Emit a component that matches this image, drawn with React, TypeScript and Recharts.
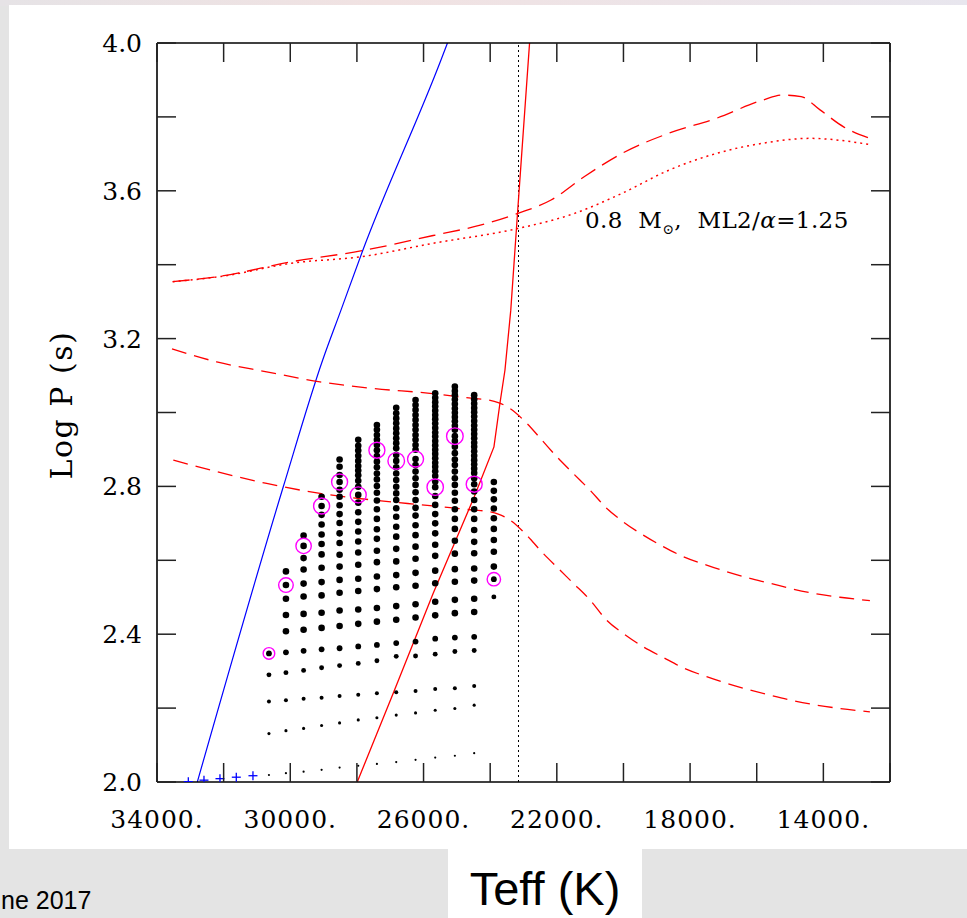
import React from 'react';
import { ComposedChart, Line, Scatter, XAxis, YAxis, ReferenceLine } from 'recharts';

// axis ticks
const xTicks = [12000, 14000, 16000, 18000, 20000, 22000, 24000, 26000, 28000, 30000, 32000, 34000];
const yTicks = [2.0, 2.2, 2.4, 2.6, 2.8, 3.0, 3.2, 3.4, 3.6, 3.8, 4.0];
const xDomain = [12000, 34000];
const yDomain = [2, 4];

// model grid: one column per Teff, log P values bottom -> top
const gridTeff = [30640, 30130, 29600, 29060, 28520, 27960, 27400, 26820, 26240, 25650, 25060, 24480, 23890];
const gridLogP = [
  [2.019, 2.131, 2.218, 2.29, 2.348],
  [2.024, 2.139, 2.221, 2.296, 2.351, 2.408, 2.452, 2.496, 2.533, 2.57],
  [2.028, 2.145, 2.225, 2.302, 2.355, 2.412, 2.455, 2.502, 2.537, 2.575, 2.606, 2.639, 2.667],
  [2.033, 2.153, 2.228, 2.309, 2.359, 2.417, 2.458, 2.505, 2.541, 2.58, 2.616, 2.644, 2.67, 2.697, 2.723, 2.747, 2.772],
  [2.039, 2.16, 2.233, 2.315, 2.362, 2.422, 2.464, 2.512, 2.547, 2.583, 2.615, 2.647, 2.673, 2.701, 2.725, 2.749, 2.772, 2.791, 2.812, 2.831, 2.853, 2.873],
  [2.044, 2.168, 2.236, 2.321, 2.367, 2.428, 2.467, 2.517, 2.55, 2.588, 2.621, 2.651, 2.678, 2.704, 2.73, 2.756, 2.777, 2.799, 2.815, 2.83, 2.843, 2.855, 2.869, 2.883, 2.897, 2.91, 2.926],
  [2.049, 2.174, 2.24, 2.328, 2.371, 2.434, 2.471, 2.522, 2.556, 2.595, 2.626, 2.658, 2.684, 2.712, 2.738, 2.762, 2.783, 2.801, 2.819, 2.835, 2.852, 2.867, 2.882, 2.898, 2.912, 2.926, 2.939, 2.953, 2.966],
  [2.054, 2.181, 2.243, 2.34, 2.376, 2.439, 2.476, 2.527, 2.56, 2.597, 2.631, 2.664, 2.691, 2.718, 2.741, 2.763, 2.781, 2.799, 2.817, 2.835, 2.852, 2.869, 2.885, 2.903, 2.917, 2.93, 2.944, 2.957, 2.971, 2.984, 2.998, 3.013],
  [2.06, 2.187, 2.246, 2.341, 2.38, 2.445, 2.481, 2.531, 2.566, 2.604, 2.637, 2.668, 2.695, 2.721, 2.742, 2.763, 2.784, 2.804, 2.822, 2.84, 2.858, 2.874, 2.899, 2.912, 2.926, 2.939, 2.953, 2.966, 2.98, 2.993, 3.007, 3.02, 3.034],
  [2.066, 2.194, 2.252, 2.346, 2.388, 2.451, 2.488, 2.538, 2.572, 2.612, 2.642, 2.673, 2.7, 2.725, 2.75, 2.774, 2.798, 2.813, 2.828, 2.841, 2.853, 2.864, 2.876, 2.888, 2.899, 2.911, 2.923, 2.935, 2.946, 2.958, 2.97, 2.982, 2.993, 3.005, 3.017, 3.028, 3.04, 3.052],
  [2.071, 2.199, 2.254, 2.353, 2.391, 2.457, 2.493, 2.542, 2.576, 2.618, 2.653, 2.685, 2.712, 2.738, 2.761, 2.783, 2.804, 2.822, 2.84, 2.858, 2.873, 2.89, 2.907, 2.923, 2.936, 2.953, 2.964, 2.976, 2.988, 2.999, 3.011, 3.023, 3.035, 3.047, 3.058, 3.07],
  [2.078, 2.208, 2.26, 2.356, 2.393, 2.46, 2.496, 2.545, 2.578, 2.619, 2.65, 2.682, 2.712, 2.738, 2.763, 2.786, 2.806, 2.822, 2.836, 2.848, 2.86, 2.871, 2.883, 2.895, 2.907, 2.918, 2.93, 2.942, 2.953, 2.965, 2.977, 2.989, 3.001, 3.012, 3.024, 3.036, 3.047],
  [2.501, 2.549, 2.583, 2.623, 2.655, 2.685, 2.714, 2.74, 2.765, 2.788, 2.812],
];

// observed periods (magenta rings)
const ringTeff = [30640, 30130, 29600, 29060, 28520, 27960, 27400, 26820, 26240, 25650, 25060, 24480, 23890];
const ringLogP = [2.348, 2.533, 2.639, 2.747, 2.812, 2.777, 2.898, 2.869, 2.874, 2.798, 2.936, 2.806, 2.549];

// blue crosses along the bottom
const plusTeff = [33060, 32590, 32110, 31620, 31120];
const plusLogP = [2.001, 2.005, 2.009, 2.013, 2.017];

const blueEdge = [[32790, 2.0], [30210, 2.799], [29027, 3.142], [28478, 3.277], [27839, 3.435], [25477, 3.954], [25282, 4.0]];
const redEdge = [[27990, 2.0], [26910, 2.24], [25710, 2.511], [24478, 2.772], [23887, 2.907], [23707, 3.025], [23556, 3.115], [23382, 3.277], [23166, 3.557], [22818, 4.0]];
const dashTop = [[33529, 3.354], [32085, 3.369], [29961, 3.408], [27836, 3.438], [25711, 3.479], [24298, 3.507], [23166, 3.539], [22173, 3.575], [21180, 3.638], [20048, 3.701], [18632, 3.756], [17215, 3.796], [15799, 3.846], [15232, 3.859], [14668, 3.855], [14100, 3.819], [13392, 3.773], [12612, 3.742]];
const dotTop = [[33529, 3.354], [32085, 3.368], [29961, 3.404], [27836, 3.422], [25711, 3.458], [23166, 3.498], [21465, 3.539], [20048, 3.593], [18632, 3.656], [17215, 3.701], [15799, 3.729], [14383, 3.742], [13537, 3.737], [12543, 3.724]];
const dashMid = [[33550, 3.172], [32208, 3.137], [30708, 3.11], [29108, 3.083], [27509, 3.065], [25807, 3.052], [24508, 3.038], [24058, 3.034], [23758, 3.027], [23407, 3.011], [22905, 2.971], [22455, 2.926], [21957, 2.876], [21507, 2.835], [21006, 2.79], [20505, 2.741], [20006, 2.704], [19406, 2.668], [18806, 2.637], [18206, 2.61], [17504, 2.587], [16903, 2.569], [16204, 2.551], [15604, 2.538], [14905, 2.522], [14203, 2.509], [13504, 2.5], [12603, 2.491]];
const dashLow = [[33511, 2.871], [32208, 2.84], [30708, 2.808], [29108, 2.781], [27509, 2.763], [25807, 2.748], [24508, 2.736], [24058, 2.732], [23758, 2.725], [23407, 2.709], [22905, 2.668], [22455, 2.623], [21957, 2.578], [21507, 2.538], [21006, 2.493], [20505, 2.438], [20006, 2.402], [19406, 2.366], [18806, 2.337], [18206, 2.309], [17504, 2.285], [16903, 2.267], [16204, 2.249], [15604, 2.235], [14905, 2.22], [14203, 2.208], [13504, 2.199], [12603, 2.19]];

const blueEdgeLimitTeff = 23150;

const pts = (arr: number[][]) => arr.map(([t, p]) => ({ t, p }));

const gridPoints = gridTeff.flatMap((t, c) =>
  gridLogP[c].map((p, i) => ({ t, p, k: i + (c === gridTeff.length - 1 ? 3 : 0) }))
);
const ringPoints = ringTeff.map((t, i) => ({ t, p: ringLogP[i], i }));
const plusPoints = plusTeff.map((t, i) => ({ t, p: plusLogP[i] }));
// invisible anchors so the top/right frame axes get a domain
const frameAnchors = [{ t: xDomain[0], p: yDomain[0] }, { t: xDomain[1], p: yDomain[1] }];

const ringR = [5.8, 7.3, 7.7, 8, 8, 8, 8, 8.3, 8, 8.2, 8.3, 8, 6.7];

const SERIF = '"DejaVu Serif", serif';
const SANS = '"Liberation Sans", Arial, sans-serif';
const TICK = '#222';

const GridDot = (props: any) => {
  const { cx, cy, payload } = props;
  const r = Math.min(3.3, 1.1 + 0.45 * payload.k);
  return <circle cx={cx} cy={cy} r={r} fill="#000" />;
};

const Ring = (props: any) => {
  const { cx, cy, payload } = props;
  return <circle cx={cx} cy={cy} r={ringR[payload.i]} fill="none" stroke="#ff00ff" strokeWidth={1.4} />;
};

const Plus = (props: any) => {
  const { cx, cy } = props;
  return (
    <g stroke="#0000ff" strokeWidth={1.3}>
      <line x1={cx - 4.5} y1={cy} x2={cx + 4.5} y2={cy} />
      <line x1={cx} y1={cy - 4.5} x2={cx} y2={cy + 4.5} />
    </g>
  );
};

const Nothing = () => <g />;

const BottomTick = (props: any) => {
  const { x, y, payload } = props;
  const v = payload.value;
  const labeled = (34000 - v) % 4000 === 0;
  return (
    <g>
      <line x1={x} y1={y} x2={x} y2={y - 19} stroke={TICK} strokeWidth={1.5} />
      {labeled && (
        <text x={x} y={y + 46} textAnchor="middle" fontFamily={SERIF} fontSize={25} letterSpacing={1} fill="#000">
          {`${v}.`}
        </text>
      )}
    </g>
  );
};

const TopTick = (props: any) => {
  const { x, y } = props;
  return <line x1={x} y1={y} x2={x} y2={y + 19} stroke={TICK} strokeWidth={1.5} />;
};

const LeftTick = (props: any) => {
  const { x, y, payload } = props;
  const v = payload.value;
  const labeled = Math.round(v * 10) % 4 === 0;
  return (
    <g>
      <line x1={x} y1={y} x2={x + 19} y2={y} stroke={TICK} strokeWidth={1.5} />
      {labeled && (
        <text x={x - 15} y={y + 9} textAnchor="end" fontFamily={SERIF} fontSize={25} fill="#000">
          {v.toFixed(1)}
        </text>
      )}
    </g>
  );
};

const RightTick = (props: any) => {
  const { x, y } = props;
  return <line x1={x} y1={y} x2={x - 19} y2={y} stroke={TICK} strokeWidth={1.5} />;
};

const axisLine = { stroke: '#000', strokeWidth: 1.6 };

export default function App() {
  return (
    <div style={{ position: 'absolute', left: 0, top: 0, width: 967, height: 918, overflow: 'hidden', background: '#e4e4e4' }}>
      <div style={{ position: 'absolute', left: 0, top: 0, width: 967, height: 6, background: 'linear-gradient(90deg, #e6e3e6, #f1e2e2 40%, #e8e6ee)' }} />
      <div style={{ position: 'absolute', left: 9, top: 5, width: 958, height: 844, background: '#fff' }} />
      <div style={{ position: 'absolute', left: 448, top: 849, width: 194, height: 69, background: '#fff' }} />
      <div style={{ position: 'absolute', left: 0, top: 0 }}>
        <ComposedChart width={967} height={918} margin={{ top: 42, right: 76, bottom: 0, left: 0 }}>
          <XAxis
            xAxisId={0}
            dataKey="t"
            type="number"
            domain={xDomain}
            reversed
            allowDataOverflow
            ticks={xTicks}
            interval={0}
            height={136}
            tickSize={0}
            tickMargin={0}
            tickLine={false}
            axisLine={axisLine}
            tick={<BottomTick />}
          />
          <XAxis
            xAxisId="top"
            dataKey="t"
            orientation="top"
            type="number"
            domain={xDomain}
            reversed
            allowDataOverflow
            ticks={xTicks}
            interval={0}
            height={1}
            tickSize={0}
            tickMargin={0}
            tickLine={false}
            axisLine={axisLine}
            tick={<TopTick />}
          />
          <YAxis
            yAxisId={0}
            dataKey="p"
            type="number"
            domain={yDomain}
            allowDataOverflow
            ticks={yTicks}
            interval={0}
            width={157}
            tickSize={0}
            tickMargin={0}
            tickLine={false}
            axisLine={axisLine}
            tick={<LeftTick />}
          />
          <YAxis
            yAxisId="right"
            dataKey="p"
            orientation="right"
            type="number"
            domain={yDomain}
            allowDataOverflow
            ticks={yTicks}
            interval={0}
            width={1}
            tickSize={0}
            tickMargin={0}
            tickLine={false}
            axisLine={axisLine}
            tick={<RightTick />}
          />
          <Scatter xAxisId="top" yAxisId="right" data={frameAnchors} shape={<Nothing />} isAnimationActive={false} />
          <ReferenceLine x={blueEdgeLimitTeff} stroke="#000" strokeWidth={1} strokeDasharray="2 3" />
          <Scatter data={gridPoints} shape={<GridDot />} isAnimationActive={false} />
          <Scatter data={ringPoints} shape={<Ring />} isAnimationActive={false} />
          <Scatter data={plusPoints} shape={<Plus />} isAnimationActive={false} />
          <Line data={pts(blueEdge)} dataKey="p" type="monotone" stroke="#0000ff" strokeWidth={1.2} dot={false} isAnimationActive={false} />
          <Line data={pts(redEdge)} dataKey="p" type="linear" stroke="#ff0000" strokeWidth={1.3} dot={false} isAnimationActive={false} />
          <Line data={pts(dashTop)} dataKey="p" type="monotone" stroke="#ff0000" strokeWidth={1.3} strokeDasharray="17 8" dot={false} isAnimationActive={false} />
          <Line data={pts(dotTop)} dataKey="p" type="monotone" stroke="#ff0000" strokeWidth={1.5} strokeDasharray="2 4" dot={false} isAnimationActive={false} />
          <Line data={pts(dashMid)} dataKey="p" type="monotone" stroke="#ff0000" strokeWidth={1.3} strokeDasharray="15 8" dot={false} isAnimationActive={false} />
          <Line data={pts(dashLow)} dataKey="p" type="monotone" stroke="#ff0000" strokeWidth={1.3} strokeDasharray="15 8" dot={false} isAnimationActive={false} />
        </ComposedChart>
      </div>
      <svg width={967} height={918} style={{ position: 'absolute', left: 0, top: 0, pointerEvents: 'none' }}>
        <text x={585} y={228} fontFamily={SERIF} fontSize={23} letterSpacing={0.4} fill="#000" style={{ whiteSpace: 'pre' }}>
          {'0.8  M'}
          <tspan fontSize={14} dy={6}>⊙</tspan>
          <tspan dy={-6}>{',  ML2/'}</tspan>
          <tspan fontStyle="italic">α</tspan>
          <tspan>=1.25</tspan>
        </text>
        <text
          transform="translate(72, 405) rotate(-90)"
          textAnchor="middle"
          fontFamily={SERIF}
          fontSize={30}
          letterSpacing={1.5}
          fill="#000"
        >
          Log P (s)
        </text>
        <text x={545} y={905} textAnchor="middle" fontFamily={SANS} fontSize={47} fill="#000">
          Teff (K)
        </text>
        <text x={1} y={909} fontFamily={SANS} fontSize={25} fill="#000">
          ne 2017
        </text>
      </svg>
    </div>
  );
}
